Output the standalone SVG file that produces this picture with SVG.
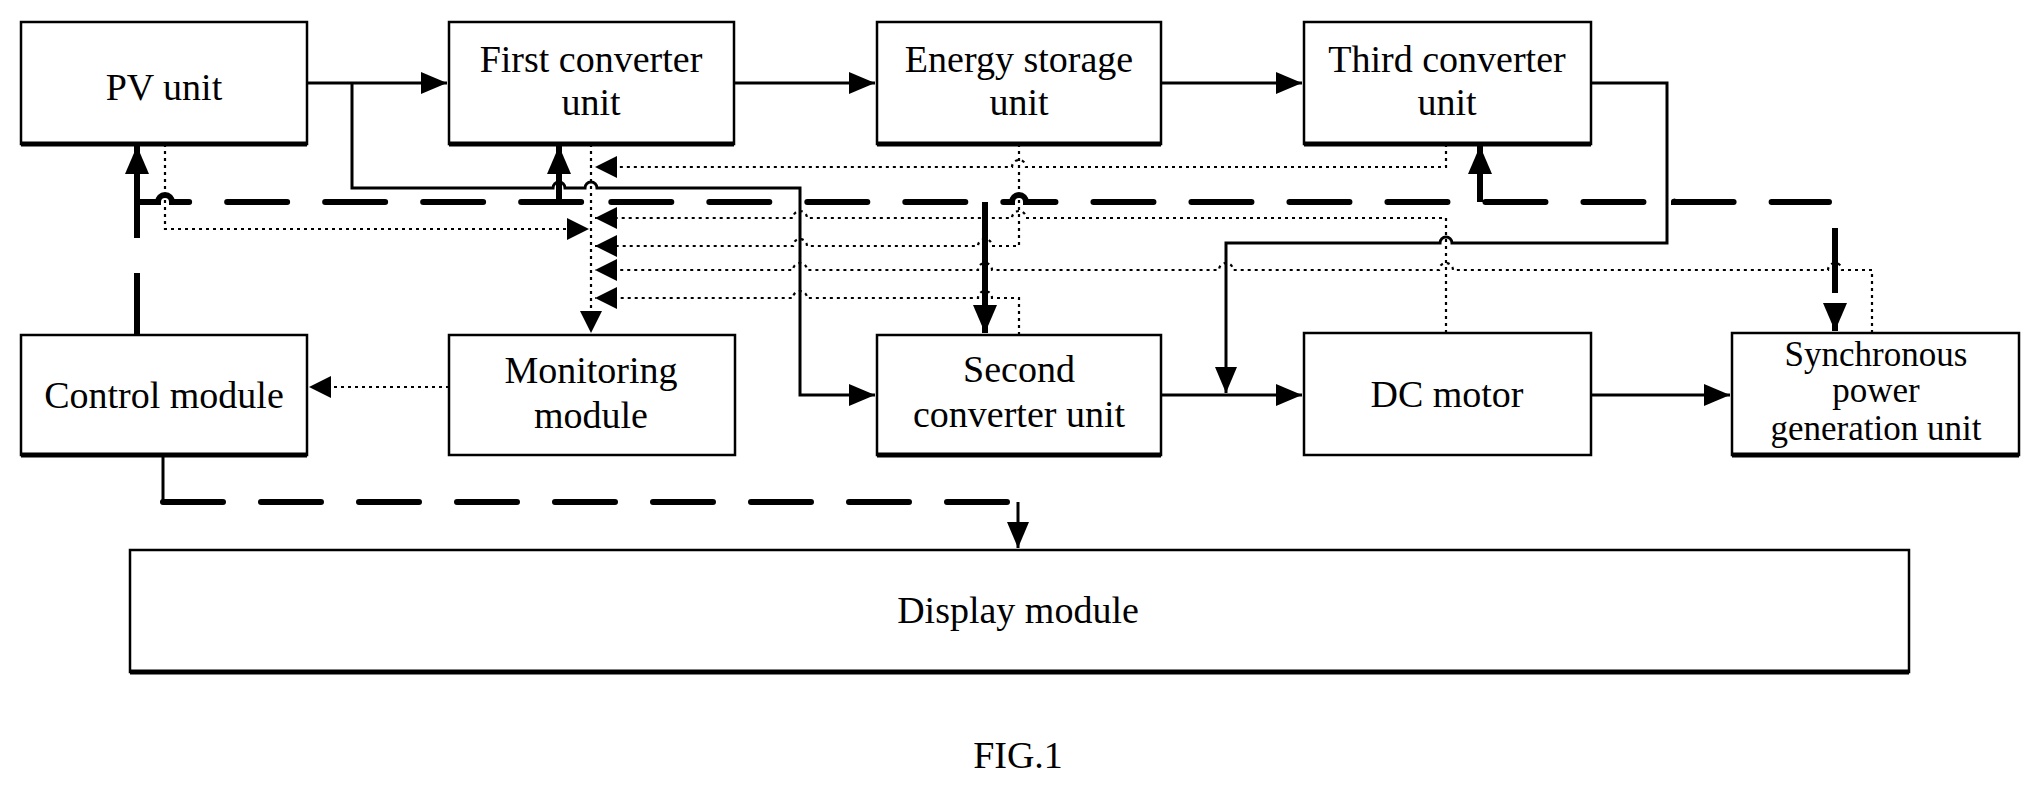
<svg xmlns="http://www.w3.org/2000/svg" width="2038" height="790" viewBox="0 0 2038 790">
<style>
.box{fill:#fff;stroke:#000;stroke-width:2.5}
.sh{stroke:#000;stroke-width:5}
text{font-family:"Liberation Serif","Times New Roman",serif;font-size:38px;fill:#000;text-anchor:middle}
.sm{font-size:35px}
.s{fill:none;stroke:#000;stroke-width:3}
.t{fill:none;stroke:#000;stroke-width:6}
.d{fill:none;stroke:#000;stroke-width:6;stroke-dasharray:60 38;stroke-linecap:round}
.o{fill:none;stroke:#000;stroke-width:2.2;stroke-dasharray:3 4}
</style>
<defs>
<marker id="a" markerUnits="userSpaceOnUse" markerWidth="28" markerHeight="24" refX="26" refY="12" orient="auto"><path d="M0,1 L26,12 L0,23 Z" fill="#000"/></marker>
<marker id="b" markerUnits="userSpaceOnUse" markerWidth="30" markerHeight="26" refX="28" refY="13" orient="auto"><path d="M0,1 L28,13 L0,25 Z" fill="#000"/></marker>
<marker id="c" markerUnits="userSpaceOnUse" markerWidth="24" markerHeight="22" refX="22" refY="11" orient="auto"><path d="M0,0 L22,11 L0,22 Z" fill="#000"/></marker>
</defs>
<g id="connectors">
<path class="s" d="M307 83 H447" marker-end="url(#a)"/>
<path class="s" d="M734 83 H875" marker-end="url(#a)"/>
<path class="s" d="M1161 83 H1302" marker-end="url(#a)"/>
<path class="s" d="M352 83 V188 H553 a6 6 0 0 1 12 0 H585 a6 6 0 0 1 12 0 H800 V395 H875" marker-end="url(#a)"/>
<path class="s" d="M1591 83 H1667 V243 H1452 a6 6 0 0 0 -12 0 H1226 V393" marker-end="url(#a)"/>
<path class="s" d="M1161 395 H1302" marker-end="url(#a)"/>
<path class="s" d="M1591 395 H1730" marker-end="url(#a)"/>
<path class="t" d="M137 335 V273"/>
<path class="t" d="M137 238 V146" marker-end="url(#b)"/>
<path class="d" d="M137 202 H158 a7 7 0 0 1 14 0 H584 a7 7 0 0 1 14 0 H1012 a7 7 0 0 1 14 0 H1660 a7 7 0 0 1 14 0 H1829"/>
<path class="t" d="M559 202 V146" marker-end="url(#b)"/>
<path class="t" d="M1480 202 V146" marker-end="url(#b)"/>
<path class="t" d="M985 202 V333" marker-end="url(#b)"/>
<path class="t" d="M1835 228 V331" stroke-dasharray="65 14" marker-end="url(#b)"/>
<path class="s" stroke-width="4" d="M163 455 V502"/>
<path class="d" stroke-width="8" stroke-dasharray="40 22" d="M163 502 H1018"/>
<path class="s" stroke-width="4" d="M1018 502 V548" marker-end="url(#a)"/>
<path class="o" d="M591 144 V333" marker-end="url(#c)"/>
<path class="o" d="M1446 144 V167 H1026 a7 7 0 0 0 -14 0 H595" marker-end="url(#c)"/>
<path class="o" d="M1446 333 V218 H1026 a7 7 0 0 0 -14 0 H807 a7 7 0 0 0 -14 0 H595" marker-end="url(#c)"/>
<path class="o" d="M1019 144 V246 H992 a7 7 0 0 0 -14 0 H807 a7 7 0 0 0 -14 0 H595" marker-end="url(#c)"/>
<path class="o" d="M1872 333 V270 H1842 a7 7 0 0 0 -14 0 H1453 a7 7 0 0 0 -14 0 H1233 a7 7 0 0 0 -14 0 H992 a7 7 0 0 0 -14 0 H807 a7 7 0 0 0 -14 0 H595" marker-end="url(#c)"/>
<path class="o" d="M1019 335 V298 H992 a7 7 0 0 0 -14 0 H807 a7 7 0 0 0 -14 0 H595" marker-end="url(#c)"/>
<path class="o" d="M165 144 V229 H589" marker-end="url(#c)"/>
<path class="o" d="M449 387 H309" marker-end="url(#c)"/>
</g>
<g id="pv"><rect class="box" x="21" y="22" width="286" height="122"/><line class="sh" x1="21" y1="144" x2="307" y2="144"/><text x="164" y="100">PV unit</text></g>
<g id="first"><rect class="box" x="449" y="22" width="285" height="122"/><line class="sh" x1="449" y1="144" x2="734" y2="144"/><text x="591" y="72">First converter</text><text x="591" y="115">unit</text></g>
<g id="energy"><rect class="box" x="877" y="22" width="284" height="122"/><line class="sh" x1="877" y1="144" x2="1161" y2="144"/><text x="1019" y="72">Energy storage</text><text x="1019" y="115">unit</text></g>
<g id="third"><rect class="box" x="1304" y="22" width="287" height="122"/><line class="sh" x1="1304" y1="144" x2="1591" y2="144"/><text x="1447" y="72">Third converter</text><text x="1447" y="115">unit</text></g>
<g id="control"><rect class="box" x="21" y="335" width="286" height="120"/><line class="sh" x1="21" y1="455" x2="307" y2="455"/><text x="164" y="408">Control module</text></g>
<g id="monitoring"><rect class="box" x="449" y="335" width="286" height="120"/><text x="591" y="383">Monitoring</text><text x="591" y="428">module</text></g>
<g id="second"><rect class="box" x="877" y="335" width="284" height="120"/><line class="sh" x1="877" y1="455" x2="1161" y2="455"/><text x="1019" y="382">Second</text><text x="1019" y="427">converter unit</text></g>
<g id="dc"><rect class="box" x="1304" y="333" width="287" height="122"/><text x="1447" y="407">DC motor</text></g>
<g id="sync"><rect class="box" x="1732" y="333" width="287" height="122"/><line class="sh" x1="1732" y1="455" x2="2019" y2="455"/><text class="sm" x="1876" y="366">Synchronous</text><text class="sm" x="1876" y="402">power</text><text class="sm" x="1876" y="440">generation unit</text></g>
<g id="display"><rect class="box" x="130" y="550" width="1779" height="122"/><line class="sh" x1="130" y1="672" x2="1909" y2="672"/><text x="1018" y="623">Display module</text></g>
<text x="1018" y="768">FIG.1</text>
</svg>
